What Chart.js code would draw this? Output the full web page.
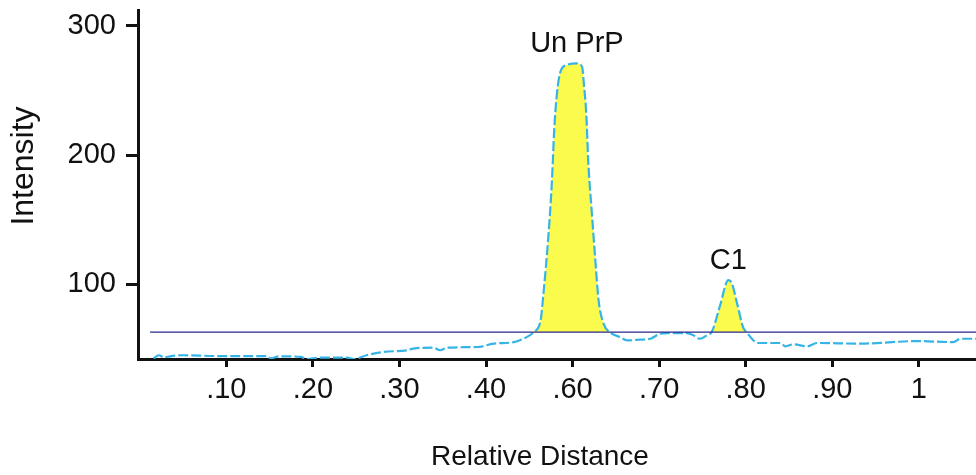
<!DOCTYPE html>
<html>
<head>
<meta charset="utf-8">
<script src="https://cdn.jsdelivr.net/npm/chart.js@4/dist/chart.umd.min.js"></script>
<style>
  html, body { margin: 0; padding: 0; background: #fff; }
  #wrap { width: 976px; height: 475px; }
</style>
</head>
<body>
<div id="wrap"><canvas id="densityChart"></canvas></div>
<script>
// --- data (x in tick units: tick 1 = ".10" ... tick 9 = "1") ---
const tickLabels = ['.10', '.20', '.30', '.40', '.60', '.70', '.80', '.90', '1'];
const yTicks = [100, 200, 300];

const position = [
    0.16, 0.22, 0.28, 0.35, 0.50, 0.90, 1.47, 1.51, 1.62, 1.86,
    1.93, 2.08, 2.39, 2.47, 2.62, 2.82, 3.09, 3.16, 3.39, 3.47,
    3.55, 3.90, 4.09, 4.32, 4.43, 4.50, 4.55, 4.63, 4.66, 4.72,
    4.76, 4.79, 4.82, 4.86, 4.93, 5.05, 5.11, 5.13, 5.16, 5.18,
    5.22, 5.26, 5.30, 5.36, 5.43, 5.55, 5.63, 5.78, 5.90, 6.01,
    6.09, 6.32, 6.40, 6.47, 6.55, 6.61, 6.70, 6.80, 6.84, 6.90,
    6.97, 7.01, 7.09, 7.13, 7.40, 7.46, 7.55, 7.71, 7.82, 8.32,
    8.98, 9.40, 9.48, 9.66
];
const intensity = [
    42.5, 44.8, 43.2, 44.0, 44.8, 44.2, 44.2, 42.5, 44.0, 43.5,
    41.8, 43.0, 43.0, 41.8, 44.8, 47.4, 48.7, 50.0, 50.7, 48.7,
    50.7, 51.2, 53.8, 55.0, 57.6, 60.0, 62.7, 71.6, 90.2, 136.7,
    178.0, 222.1, 248.0, 264.7, 269.7, 271.1, 268.4, 255.6, 229.8, 196.2,
    157.4, 121.0, 87.6, 69.0, 62.7, 58.8, 56.3, 56.9, 57.6, 61.5,
    61.9, 61.9, 60.2, 57.6, 60.2, 63.2, 82.4, 103.1, 100.6, 85.0,
    66.5, 62.7, 56.3, 54.3, 54.3, 51.7, 53.3, 51.7, 54.3, 53.8,
    55.8, 55.0, 57.6, 57.6
];

const baselineLevel = 62.8;
const baselineStart = 0.12;
const baselineEnd = 9.66;

const peakNames = ['Un PrP', 'C1'];
const peakPos = [5.05, 6.80];

const xTitle = 'Relative Distance';
const yTitle = 'Intensity';

// --- chart ---
const FONT = "'Liberation Sans', Arial, sans-serif";

const tracePoints = position.map((x, i) => ({ x: x, y: intensity[i] }));
const basePoints = [{ x: baselineStart, y: baselineLevel }, { x: baselineEnd, y: baselineLevel }];

// peak names + axis titles
const textPlugin = {
    id: 'textPlugin',
    afterDraw(chart) {
        const ctx = chart.ctx;
        const xs = chart.scales.x, ys = chart.scales.y;
        ctx.save();
        ctx.fillStyle = '#111';
        ctx.font = '29px ' + FONT;
        ctx.textAlign = 'center';
        ctx.textBaseline = 'alphabetic';
        peakNames.forEach((name, i) => {
            // find highest point near the peak position
            let top = 0;
            position.forEach((x, j) => {
                if (Math.abs(x - peakPos[i]) < 0.15 && intensity[j] > top) top = intensity[j];
            });
            ctx.fillText(name, xs.getPixelForValue(peakPos[i]), ys.getPixelForValue(top) - 11);
        });
        ctx.textBaseline = 'middle';
        ctx.font = '28px ' + FONT;
        ctx.fillText(xTitle, 540, 457);
        ctx.font = '32px ' + FONT;
        ctx.translate(24, 166);
        ctx.rotate(-Math.PI / 2);
        ctx.fillText(yTitle, 0, 0);
        ctx.restore();
    }
};

const ctx = document.getElementById('densityChart').getContext('2d');
new Chart(ctx, {
    type: 'line',
    data: {
        datasets: [
            {
                label: 'Baseline',
                data: basePoints,
                borderColor: '#2a278a',
                borderWidth: 1.3,
                pointRadius: 0,
                fill: false
            },
            {
                label: 'Intensity',
                data: tracePoints,
                borderColor: '#37b4e6',
                borderWidth: 2.2,
                borderDash: [10, 3],
                pointRadius: 0,
                cubicInterpolationMode: 'monotone',
                fill: {
                    target: { value: baselineLevel },
                    above: '#fbfb4e',
                    below: 'rgba(0,0,0,0)'
                }
            }
        ]
    },
    options: {
        responsive: true,
        maintainAspectRatio: false,
        animation: false,
        layout: { padding: { top: 10, right: 0, left: 0, bottom: 0 } },
        plugins: {
            legend: { display: false },
            tooltip: { enabled: false }
        },
        scales: {
            x: {
                type: 'linear',
                min: -0.02,
                max: 9.66,
                afterBuildTicks: (scale) => { scale.ticks = tickLabels.map((t, i) => ({ value: i + 1 })); },
                afterFit: (scale) => {
                    scale.height = 116;
                    scale.paddingLeft = 0;
                    scale.paddingRight = 0;
                },
                ticks: {
                    autoSkip: false,
                    maxRotation: 0,
                    padding: 6,
                    color: '#111',
                    font: { family: FONT, size: 29 },
                    callback: (v, i) => tickLabels[i]
                },
                grid: { drawOnChartArea: false, tickLength: 8, tickWidth: 3, color: '#111' },
                border: { color: '#111', width: 3 }
            },
            y: {
                min: 41.9,
                max: 312.4,
                afterBuildTicks: (scale) => { scale.ticks = yTicks.map(v => ({ value: v })); },
                afterFit: (scale) => {
                    scale.width = 138;
                    scale.paddingTop = 0;
                    scale.paddingBottom = 0;
                },
                ticks: {
                    padding: 10,
                    color: '#111',
                    font: { family: FONT, size: 29 },
                    callback: (v) => String(v)
                },
                grid: { drawOnChartArea: false, tickLength: 12, tickWidth: 3, color: '#111' },
                border: { color: '#111', width: 3 }
            }
        }
    },
    plugins: [textPlugin]
});
</script>
</body>
</html>
